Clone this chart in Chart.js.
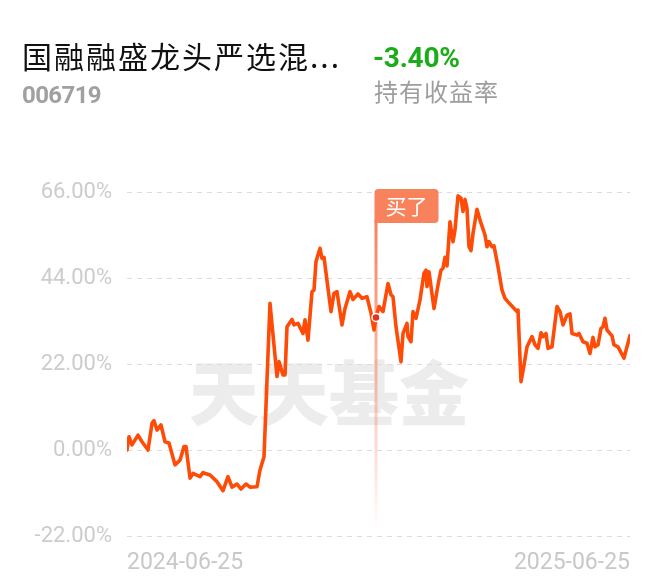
<!DOCTYPE html>
<html><head><meta charset="utf-8">
<script src="https://cdn.jsdelivr.net/npm/chart.js@4.4.1/dist/chart.umd.min.js"></script>
<style>
html,body{margin:0;padding:0;background:#fff;width:660px;height:585px;overflow:hidden;}
#wrap{position:relative;width:660px;height:585px;}
canvas{position:absolute;left:0;top:0;}
.t{position:absolute;white-space:nowrap;line-height:1;}
</style></head><body>
<div id="wrap">
<canvas id="c" width="660" height="585"></canvas>
<div class="t" style="left:22px;top:40px;font-size:30px;font-family:'Noto Sans CJK SC';font-weight:400;letter-spacing:2px;color:#111;">国融融盛龙头严选混...</div>
<div class="t" style="left:22px;top:83px;font-size:24px;font-weight:700;font-family:Roboto;letter-spacing:-0.6px;color:#a0a0a0;">006719</div>
<div class="t" style="left:373px;top:44px;font-size:28px;font-weight:700;font-family:Roboto;letter-spacing:-0.2px;color:#1aad19;">-3.40%</div>
<div class="t" style="left:374px;top:79px;font-size:24px;font-family:'Noto Sans CJK SC';letter-spacing:1px;color:#9d9d9d;">持有收益率</div>
</div>
<script>
const tradeDays = [0,2,5,11,15,21,25,27,30,34,38,42,48,53,57,59,63,66,73,76,83,90,96,101,105,110,114,119,123,130,133,137,143,150,152,156,158,160,165,167,171,176,178,181,185,187,189,193,195,197,204,207,210,215,218,223,226,231,235,240,244,247,249,252,256,261,264,266,269,274,276,280,281,284,286,289,293,297,299,300,302,307,311,314,316,318,320,323,326,328,331,334,336,338,340,342,344,346,350,353,358,360,362,365,367,371,375,378,381,386,390,391,394,397,400,405,408,411,414,416,419,421,425,430,433,436,440,443,445,450,452,456,460,463,466,468,471,474,476,478,480,485,487,491,497,503];
const returnPct = [0.0,3.4,1.3,3.8,2.1,0.0,6.8,7.5,5.1,6.4,2.1,1.8,-3.8,-2.6,0.9,0.9,-7.2,-6.0,-6.8,-5.8,-6.4,-8.1,-10.4,-6.8,-9.5,-8.7,-10.0,-8.7,-9.5,-9.4,-5.1,-1.7,37.5,18.8,22.6,19.2,19.2,31.5,33.4,32.0,32.4,29.8,33.3,28.1,40.5,40.9,48.2,51.6,49.0,49.3,35.4,40.1,40.5,32.0,36.2,40.5,38.5,39.9,38.8,39.2,35.0,30.7,33.9,36.7,35.4,42.6,39.7,39.2,31.5,22.6,29.8,32.4,29.0,27.7,35.4,33.7,38.4,45.2,46.0,41.8,45.6,36.2,42.2,46.0,46.5,49.3,47.1,58.4,53.3,56.3,65.0,64.4,61.0,64.1,61.8,52.0,51.0,55.4,61.6,58.8,55.0,52.0,53.3,52.0,52.2,46.9,40.9,38.8,37.9,36.5,35.4,35.8,17.5,21.7,26.4,29.0,26.9,26.0,30.0,29.0,29.8,26.0,26.4,36.7,35.4,32.0,34.5,34.8,29.8,29.4,29.8,27.7,27.3,24.7,28.8,26.4,26.9,31.1,31.5,33.7,30.7,29.2,26.9,26.4,23.5,29.3];
const yTickValues = [-22, 0, 22, 44, 66];
const xTickLabels = ['2024-06-25', '2025-06-25'];
const buyDay = 249;
const buyPct = 33.9;
const buyLabel = '买了';
const watermark = '天天基金';

const overlay = {
  id: 'overlay',
  beforeDraw(chart) {
    const ctx = chart.ctx;
    ctx.save();
    ctx.font = '900 70px "Noto Sans CJK SC"';
    ctx.fillStyle = '#ececec';
    ctx.textAlign = 'center';
    ctx.textBaseline = 'middle';
    ctx.fillText(watermark, 329, 393);
    ctx.restore();
  },
  beforeDatasetsDraw(chart) {
    const { ctx, scales: { x } } = chart;
    const bx = x.getPixelForValue(buyDay);
    ctx.save();
    const g = ctx.createLinearGradient(0, 222, 0, 532);
    g.addColorStop(0, 'rgba(247,128,90,1)');
    g.addColorStop(0.5, 'rgba(247,128,90,0.5)');
    g.addColorStop(1, 'rgba(247,128,90,0)');
    ctx.fillStyle = g;
    ctx.fillRect(bx - 1.5, 220, 3, 312);
    ctx.fillStyle = '#f7825c';
    ctx.beginPath();
    ctx.roundRect(bx - 1.5, 189, 64, 34, [4, 4, 4, 0]);
    ctx.fill();
    ctx.fillStyle = '#fff';
    ctx.font = '21px "Noto Sans CJK SC"';
    ctx.textAlign = 'center';
    ctx.textBaseline = 'middle';
    ctx.fillText(buyLabel, bx + 30.5, 206);
    ctx.restore();
  }
};

new Chart(document.getElementById('c'), {
  type: 'line',
  data: {
    datasets: [
      {
        data: [{ x: buyDay, y: buyPct }],
        pointRadius: 4,
        pointBackgroundColor: '#e8321e',
        pointBorderColor: '#fff',
        pointBorderWidth: 1.5,
        showLine: false,
        order: 0
      },
      {
        data: tradeDays.map((d, i) => ({ x: d, y: returnPct[i] })),
        borderColor: '#fe4b07',
        borderWidth: 3.6,
        pointRadius: 0,
        tension: 0,
        borderJoinStyle: 'round',
        borderCapStyle: 'round',
        fill: false,
        order: 1
      }
    ]
  },
  options: {
    responsive: false,
    animation: false,
    devicePixelRatio: 1,
    layout: { padding: { top: 192, right: 30, left: 0, bottom: 0 } },
    plugins: { legend: { display: false }, tooltip: { enabled: false } },
    scales: {
      x: {
        type: 'linear',
        min: 0,
        max: 503,
        afterBuildTicks: (s) => { s.ticks = [{ value: s.min }, { value: s.max }]; },
        afterFit: (s) => { s.height = 49; },
        grid: { display: false, drawTicks: false },
        border: { display: false },
        ticks: {
          align: 'inner',
          maxRotation: 0,
          padding: 13,
          color: '#c8c8c8',
          font: { family: 'Roboto', size: 23 },
          callback: (v, i) => xTickLabels[i]
        }
      },
      y: {
        min: -22,
        max: 66,
        afterBuildTicks: (s) => { s.ticks = yTickValues.map(v => ({ value: v })); },
        afterFit: (s) => { s.width = 127; },
        grid: { color: '#dcdcdc', lineWidth: 1, drawTicks: false },
        border: { display: false, dash: [5, 5] },
        ticks: {
          padding: 15,
          color: '#cccccc',
          font: { family: 'Roboto', size: 22 },
          callback: (v) => v.toFixed(2) + '%'
        }
      }
    }
  },
  plugins: [overlay]
});
</script>
</body></html>
